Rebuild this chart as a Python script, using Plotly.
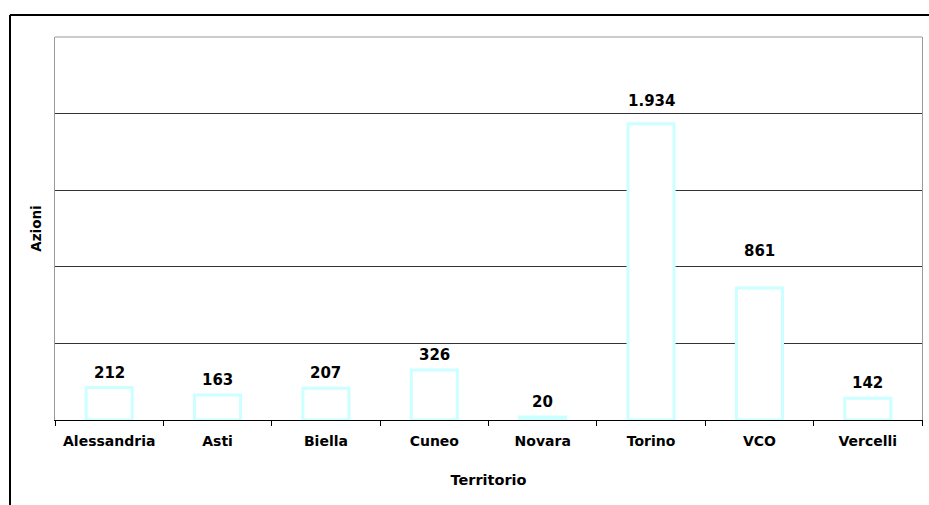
import plotly.graph_objects as go

# Azioni per territorio (Piemonte)
territori = ["Alessandria", "Asti", "Biella", "Cuneo", "Novara", "Torino", "VCO", "Vercelli"]
azioni = [212, 163, 207, 326, 20, 1934, 861, 142]
grid_vals = [500, 1000, 1500, 2000]

# extra lift (px) of each value label above its bar
label_lift = [4, 4, 4, 4, 4, 12, 26, 4]

def fmt_it(v):
    return f"{v:,}".replace(",", ".")

FONT = "Verdana, DejaVu Sans, sans-serif"

fig = go.Figure(
    go.Bar(
        x=territori,
        y=azioni,
        marker=dict(color="white", line=dict(color="#CCFFFF", width=3)),
        hoverinfo="x+y",
    )
)

for cat, val, lift in zip(territori, azioni, label_lift):
    fig.add_annotation(
        x=cat, y=val, xref="x", yref="y",
        text=f"<b>{fmt_it(val)}</b>",
        showarrow=False, yanchor="bottom", yshift=lift,
        font=dict(family=FONT, size=15, color="black"),
    )

fig.update_layout(
    width=929,
    height=505,
    margin=dict(l=55, r=7, t=37, b=85),
    paper_bgcolor="white",
    plot_bgcolor="white",
    bargap=0.575,
    showlegend=False,
    font=dict(family=FONT, color="black"),
    xaxis=dict(
        showline=True,
        linecolor="black",
        linewidth=1,
        ticks="outside",
        tickson="boundaries",
        ticklen=5,
        tickcolor="black",
        ticklabelstandoff=8,
        tickfont=dict(family=FONT, size=14, color="black"),
        tickprefix="<b>",
        ticksuffix="</b>",
        title=dict(text="<b>Territorio</b>", font=dict(family=FONT, size=14.5), standoff=27),
        showgrid=False,
    ),
    yaxis=dict(
        range=[0, 2500],
        tickvals=grid_vals,
        showticklabels=False,
        showgrid=True,
        gridcolor="#333333",
        gridwidth=1,
        zeroline=False,
        showline=True,
        linecolor="#999999",
        linewidth=1,
        mirror=True,
        title=dict(text="<b>Azioni</b>", font=dict(family=FONT, size=13.5), standoff=9),
    ),
    shapes=[
        # top border of the plot area
        dict(type="line", xref="paper", yref="paper", x0=0, x1=1, y0=1, y1=1,
             line=dict(color="#999999", width=1)),
        # outer chart frame (left and top edges)
        dict(type="line", xref="paper", yref="paper",
             x0=-0.0519, x1=-0.0519, y0=-0.25, y1=1.0574,
             line=dict(color="black", width=2)),
        dict(type="line", xref="paper", yref="paper",
             x0=-0.0519, x1=1.02, y0=1.0574, y1=1.0574,
             line=dict(color="black", width=2)),
    ],
)

fig.write_html("out.html")
